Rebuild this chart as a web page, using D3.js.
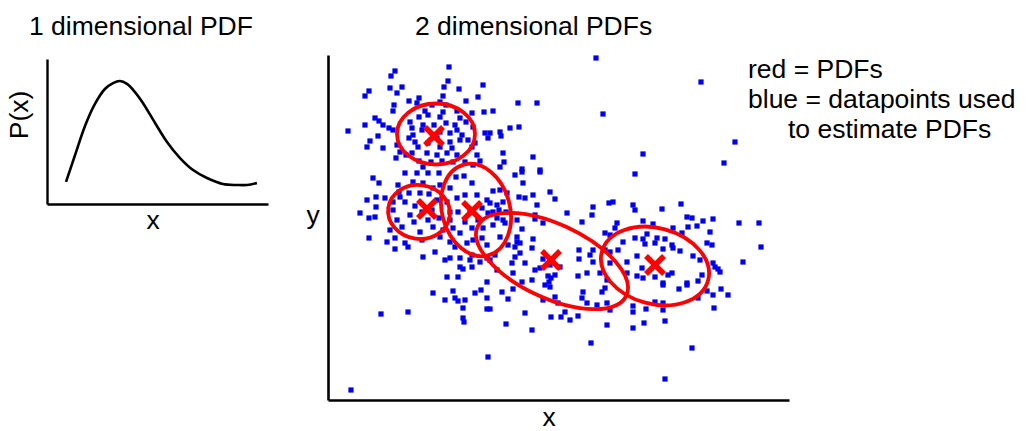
<!DOCTYPE html>
<html>
<head>
<meta charset="utf-8">
<script src="https://cdn.jsdelivr.net/npm/d3@7"></script>
<style>
  html, body { margin: 0; padding: 0; background: #fff; }
  svg { display: block; }
  text { font-family: "Liberation Sans", Arial, sans-serif; fill: #000; }
</style>
</head>
<body>
<svg id="chart" width="1030" height="431"></svg>
<script>
// ---------- 1D PDF curve (x in 0..10, P in 0..1) ----------
const pdfX = [0.86, 1.27, 1.72, 2.17, 2.62, 2.99, 3.30, 3.62, 3.98, 4.34, 4.89, 5.43, 6.02, 6.61, 7.24, 7.96, 8.60, 9.05, 9.50];
const pdfP = [0.152, 0.338, 0.538, 0.690, 0.793, 0.834, 0.848, 0.828, 0.772, 0.697, 0.559, 0.428, 0.317, 0.234, 0.179, 0.138, 0.131, 0.131, 0.145];

// ---------- 2D datapoints (x in 0..46.1, y in 0..34.5) ----------
const points = [
 [12.1,33.3],[6.7,32.9],[6.3,32.4],[12.0,31.9],[15.5,31.5],[4.1,30.9],[3.7,30.4],[6.2,31.2],[6.9,30.7],[7.4,31.3],
 [11.6,31.3],[13.1,31.1],[11.5,30.4],[15.0,30.3],[9.1,30.2],[8.1,29.9],[8.9,29.7],[10.4,29.5],[11.2,29.8],[11.8,29.5],
 [13.8,29.9],[6.6,29.5],[6.5,28.9],[15.6,28.8],[14.4,28.7],[9.7,28.9],[11.5,28.8],[12.9,28.9],[9.1,28.3],[10.0,28.5],
 [11.2,28.3],[13.2,28.2],[4.7,28.2],[5.1,27.9],[5.5,27.5],[6.1,27.2],[6.5,27.0],[3.7,27.5],[2.0,26.9],[5.0,26.4],
 [8.2,27.8],[8.4,27.2],[9.5,27.5],[10.6,27.5],[11.8,27.7],[12.7,27.5],[13.8,27.8],[14.5,27.3],[15.7,26.7],[16.0,26.2],
 [8.5,26.5],[9.4,27.0],[11.2,26.8],[12.2,26.7],[12.9,27.0],[13.4,26.5],[8.1,26.2],[8.7,25.8],[10.9,26.2],[12.2,25.8],
 [13.2,26.0],[14.0,26.0],[4.2,25.9],[3.9,25.3],[5.5,25.2],[6.9,25.5],[9.0,25.3],[10.0,25.7],[11.2,25.3],[12.4,25.2],
 [14.4,25.3],[14.7,25.7],[7.2,24.8],[7.8,24.5],[8.4,24.7],[9.9,24.7],[10.9,24.5],[11.9,24.7],[12.9,24.5],[14.9,24.5],
 [6.8,24.2],[9.1,23.9],[10.3,23.8],[11.4,23.9],[12.5,23.8],[13.7,23.8],[15.2,23.9],[14.5,23.5],[9.5,23.3],
 [26.8,34.2],[19.0,29.7],[20.9,29.7],[16.5,28.9],[27.5,28.6],[18.2,27.2],[19.1,27.3],[16.2,26.7],[17.2,26.8],[17.3,26.4],
 [17.5,24.7],[20.5,24.3],[17.6,23.8],[17.2,23.3],[19.4,23.1],[21.2,23.0],
 [37.3,31.8],[40.7,25.8],[31.5,24.6],[39.6,23.7],
 [4.5,22.2],[5.1,21.7],[7.0,21.5],[7.7,22.7],[8.9,22.7],[10.0,22.7],[11.1,22.7],[8.5,21.8],[9.5,21.7],[11.2,21.5],
 [12.8,22.3],[13.6,22.4],[14.4,21.7],[12.2,21.2],[7.1,20.8],[8.1,20.7],[9.2,20.7],[10.1,20.6],[3.9,20.0],[4.8,20.3],
 [5.7,20.2],[6.5,19.8],[7.7,19.8],[8.7,19.4],[10.9,20.0],[11.9,19.8],[12.9,20.2],[13.7,20.5],[14.9,20.5],[15.9,20.0],
 [4.8,19.3],[3.2,18.7],[4.1,18.2],[4.7,18.3],[6.5,19.0],[8.2,18.5],[9.4,18.8],[10.4,19.0],[12.2,18.8],[13.0,18.8],
 [14.2,18.8],[15.4,19.2],[16.0,18.7],[6.9,18.0],[8.6,17.8],[10.0,18.0],[11.1,18.2],[12.2,18.0],[13.7,17.8],[15.0,18.0],
 [7.4,17.3],[9.2,16.8],[6.2,17.0],[10.5,17.3],[11.5,17.0],[12.5,17.2],[13.2,16.7],[14.4,17.2],[15.5,17.2],[4.1,16.2],
 [6.7,16.2],[5.9,15.8],[7.7,15.7],[8.0,15.3],[6.7,15.1],[9.4,16.0],[11.2,16.3],[12.2,15.8],[12.7,15.3],[13.9,15.7],
 [14.5,16.0],[15.4,16.2],[15.9,15.5],[10.7,14.8],[9.5,14.3],[11.7,14.0],[12.2,14.2],[13.2,14.2],[14.4,14.5],[13.5,13.1],
 [14.4,13.3],[15.2,13.8],[15.9,14.2],[11.9,12.3],[13.0,12.3],[15.9,11.8],
 [13.2,13.3],[14.2,14.0],[16.2,14.0],[18.7,14.3],[19.2,15.7],[18.9,18.0],[7.2,20.3],[10.5,21.2],
 [18.7,22.5],[19.4,22.8],[21.2,22.8],[30.7,22.6],[19.5,21.7],[16.5,20.9],[17.2,21.0],[17.9,20.7],[22.2,20.8],[19.1,20.3],
 [19.7,20.2],[20.5,20.5],[22.7,20.1],[28.5,19.8],[28.1,19.7],[30.5,19.5],[16.2,19.7],[16.9,19.5],[17.5,19.8],[20.9,19.5],
 [16.5,18.8],[17.1,19.0],[17.8,18.8],[20.7,18.5],[23.9,18.7],[26.5,19.3],[26.4,18.5],[30.7,19.0],[16.9,18.2],[17.5,18.0],
 [20.7,18.1],[21.5,17.7],[25.4,17.8],[28.9,17.7],[16.5,17.5],[17.7,17.7],[19.4,17.1],[28.7,17.2],[27.7,16.7],[28.2,16.5],
 [17.2,16.3],[18.9,16.3],[20.5,16.1],[30.7,16.2],[29.5,15.8],[18.0,15.5],[18.7,15.3],[18.9,15.8],[20.4,15.2],[25.1,15.0],
 [26.5,15.0],[27.7,15.0],[28.2,14.8],[29.0,15.0],[19.2,14.7],[16.7,14.5],[30.9,14.4],[21.5,14.1],[25.1,14.1],[26.2,14.5],
 [22.2,13.5],[23.2,13.3],[19.7,13.7],[18.4,13.7],[21.2,13.2],[28.2,13.7],[26.5,13.8],[29.9,13.8],[16.9,13.0],[20.7,13.0],
 [22.0,12.4],[22.7,12.5],[18.5,12.7],[22.3,12.2],[25.0,12.4],[25.9,12.7],[27.2,12.7],[29.9,12.7],[30.9,12.4],[19.4,11.8],
 [20.4,12.0],[22.1,11.8],[27.9,12.0],
 [35.3,19.6],[33.4,19.1],[35.9,18.3],[36.4,18.2],[31.5,17.9],[37.5,17.9],[38.5,18.1],[41.1,17.7],[43.1,17.7],[32.5,17.6],
 [34.5,17.2],[36.0,17.3],[36.9,17.4],[38.2,16.8],[35.4,16.7],[31.9,16.6],[31.5,16.1],[32.9,16.2],[33.7,16.1],[37.9,15.7],
 [38.4,15.5],[43.3,15.3],[31.7,15.6],[32.7,15.7],[34.4,15.5],[33.5,15.1],[34.5,15.2],[35.2,14.9],[36.5,14.4],[37.2,14.0],
 [38.5,13.7],[38.7,13.3],[39.0,13.1],[39.2,12.8],[41.5,13.8],[31.4,13.2],[34.4,12.7],[34.0,12.5],[32.7,12.3],[35.9,11.7],
 [37.0,11.9],[37.4,12.5],[33.5,11.7],[31.5,12.2],
 [10.5,10.7],[12.5,10.9],[11.7,10.0],[12.7,10.2],[13.0,9.9],[13.7,10.0],[14.7,10.7],[15.3,11.0],[15.9,10.2],[5.3,8.6],
 [8.0,8.8],[13.5,9.2],[15.9,9.1],[13.5,8.2],[13.6,7.8],[16.0,4.3],[2.3,1.0],
 [17.4,10.8],[18.5,11.1],[18.0,10.1],[21.7,11.5],[22.2,11.3],[22.7,10.3],[21.5,10.0],[23.0,9.7],[25.5,10.8],[25.4,10.2],
 [25.9,9.7],[27.4,10.8],[27.7,11.2],[26.9,9.5],[27.9,9.7],[28.2,9.0],[16.2,9.1],[19.7,8.7],[23.7,8.8],[23.3,8.3],
 [22.3,8.3],[24.2,8.0],[25.0,8.4],[17.8,7.6],[20.4,7.0],[27.9,7.5],[30.5,9.4],[30.5,8.8],[30.5,7.2],[26.3,5.7],
 [33.5,11.5],[35.1,11.1],[35.9,11.5],[37.9,10.9],[38.5,10.5],[39.3,11.1],[40.0,10.5],[37.0,10.2],[32.7,9.8],[33.5,9.7],
 [31.8,9.1],[33.5,9.0],[38.6,9.2],[31.6,7.7],[33.7,7.9],[36.4,5.2],[33.7,2.1]
];

// ---------- Estimated PDFs (Gaussian components) ----------
const compCx    = [10.8, 9.1, 14.8, 22.4, 32.7];
const compCy    = [26.6, 18.8, 19.0, 13.9, 13.4];
const compRx    = [3.9, 3.1, 3.4, 8.2, 5.5];
const compRy    = [3.05, 2.7, 4.7, 3.7, 3.8];
const compAngle = [0, 8, -15, 25, 15];
const meanX     = [10.6, 9.9, 14.4, 22.3, 32.7];
const meanY     = [26.4, 19.1, 18.9, 14.0, 13.5];

const legendLines = ["red = PDFs", "blue = datapoints used", "to estimate PDFs"];

const svg = d3.select("#chart");
const FONT = 26.5;

// ================= 1D panel =================
const x1 = d3.scaleLinear().domain([0, 10]).range([47, 268]);
const y1 = d3.scaleLinear().domain([0, 1]).range([204, 59]);

svg.append("g").attr("transform", "translate(47,0)")
  .call(d3.axisLeft(y1).ticks(0).tickSizeOuter(0))
  .call(g => g.select(".domain").attr("stroke", "#000").attr("stroke-width", 2.4));
svg.append("g").attr("transform", "translate(0,204)")
  .call(d3.axisBottom(x1).ticks(0).tickSizeOuter(0))
  .call(g => g.select(".domain").attr("stroke", "#000").attr("stroke-width", 2.4));

const pdfData = pdfX.map((v, i) => [v, pdfP[i]]);
svg.append("path")
  .datum(pdfData)
  .attr("fill", "none")
  .attr("stroke", "#000")
  .attr("stroke-width", 2.6)
  .attr("d", d3.line().x(d => x1(d[0])).y(d => y1(d[1])).curve(d3.curveCatmullRom));

svg.append("text").attr("x", 29).attr("y", 35).attr("font-size", FONT).text("1 dimensional PDF");
svg.append("text").attr("transform", "translate(28,115) rotate(-90)")
  .attr("text-anchor", "middle").attr("font-size", FONT).text("P(x)");
svg.append("text").attr("x", 153).attr("y", 229).attr("text-anchor", "middle")
  .attr("font-size", FONT).text("x");

// ================= 2D panel =================
const x2 = d3.scaleLinear().domain([0, 46.1]).range([328, 789]);
const y2 = d3.scaleLinear().domain([0, 34.5]).range([400, 55]);
const kx = x2(1) - x2(0), ky = y2(0) - y2(1);

svg.append("g").attr("transform", "translate(328,0)")
  .call(d3.axisLeft(y2).ticks(0).tickSizeOuter(0))
  .call(g => g.select(".domain").attr("stroke", "#000").attr("stroke-width", 2.6));
svg.append("g").attr("transform", "translate(0,400)")
  .call(d3.axisBottom(x2).ticks(0).tickSizeOuter(0))
  .call(g => g.select(".domain").attr("stroke", "#000").attr("stroke-width", 2.6));

const PS = 5.2;
svg.append("g").selectAll("rect").data(points).join("rect")
  .attr("x", d => x2(d[0]) - PS / 2)
  .attr("y", d => y2(d[1]) - PS / 2)
  .attr("width", PS).attr("height", PS)
  .attr("fill", "#0000f0");

const comps = compCx.map((c, i) => ({cx: c, cy: compCy[i], rx: compRx[i], ry: compRy[i], a: compAngle[i]}));
svg.append("g").selectAll("ellipse").data(comps).join("ellipse")
  .attr("transform", d => `translate(${x2(d.cx)},${y2(d.cy)}) rotate(${d.a})`)
  .attr("rx", d => d.rx * kx)
  .attr("ry", d => d.ry * ky)
  .attr("fill", "none")
  .attr("stroke", "#ff0000")
  .attr("stroke-width", 3.8);

const means = meanX.map((v, i) => [v, meanY[i]]);
const XS = 9;
const xg = svg.append("g").selectAll("g").data(means).join("g")
  .attr("transform", d => `translate(${x2(d[0])},${y2(d[1])})`);
xg.append("path")
  .attr("d", `M${-XS},${-XS}L${XS},${XS}M${-XS},${XS}L${XS},${-XS}`)
  .attr("stroke", "#ff0000").attr("stroke-width", 5.5).attr("fill", "none");

svg.append("text").attr("x", 415).attr("y", 35).attr("font-size", FONT).text("2 dimensional PDFs");
svg.append("text").attr("x", 313).attr("y", 224).attr("text-anchor", "middle")
  .attr("font-size", FONT).text("y");
svg.append("text").attr("x", 549).attr("y", 426).attr("text-anchor", "middle")
  .attr("font-size", FONT).text("x");

const legX = [748, 748, 788];
const legY = [78, 108, 138];
svg.append("g").selectAll("text").data(legendLines).join("text")
  .attr("x", (d, i) => legX[i]).attr("y", (d, i) => legY[i])
  .attr("font-size", FONT).text(d => d);
</script>
</body>
</html>
